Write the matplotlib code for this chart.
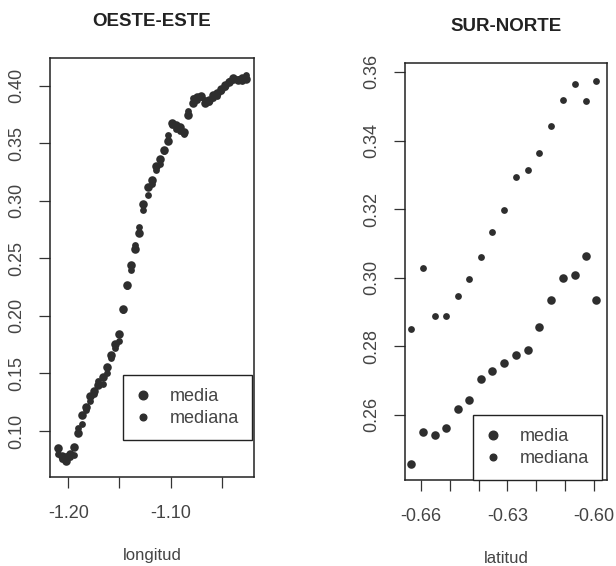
import matplotlib
matplotlib.use("Agg")
import matplotlib.pyplot as plt
from matplotlib.lines import Line2D

plt.rcParams['font.family'] = ['Liberation Sans', 'DejaVu Sans']

# ---- OESTE-ESTE data ----
longitud = [-1.2105, -1.2065, -1.2025, -1.1985, -1.1945, -1.1905, -1.1865, -1.1825,
            -1.1785, -1.1745, -1.1705, -1.1665, -1.1625, -1.1585, -1.1545, -1.1505,
            -1.1465, -1.1425, -1.1385, -1.1345, -1.1305, -1.1265, -1.1225, -1.1185,
            -1.1145, -1.1105, -1.1065, -1.1025, -1.0985, -1.0945, -1.0905, -1.0865,
            -1.0825, -1.0785, -1.0745, -1.0705, -1.0665, -1.0625, -1.0585, -1.0545,
            -1.0505, -1.0465, -1.0425, -1.0385, -1.0345, -1.0305, -1.0265]
lon_media = [0.085, 0.078, 0.074, 0.080, 0.086, 0.098, 0.114, 0.121,
             0.130, 0.135, 0.140, 0.147, 0.156, 0.166, 0.176, 0.184,
             0.206, 0.227, 0.244, 0.258, 0.272, 0.297, 0.312, 0.318,
             0.330, 0.336, 0.344, 0.352, 0.368, 0.366, 0.364, 0.360,
             0.375, 0.385, 0.390, 0.391, 0.385, 0.388, 0.392, 0.394,
             0.397, 0.401, 0.403, 0.407, 0.405, 0.407, 0.406]
lon_mediana = [0.080, 0.076, 0.078, 0.077, 0.079, 0.103, 0.106, 0.118,
               0.126, 0.132, 0.143, 0.141, 0.150, 0.163, 0.172, 0.178,
               0.205, 0.226, 0.240, 0.262, 0.277, 0.292, 0.305, 0.315,
               0.327, 0.332, 0.343, 0.357, 0.366, 0.362, 0.361, 0.358,
               0.378, 0.389, 0.388, 0.390, 0.388, 0.386, 0.389, 0.391,
               0.395, 0.399, 0.404, 0.405, 0.406, 0.404, 0.409]
lon_yticks = [0.10, 0.15, 0.20, 0.25, 0.30, 0.35, 0.40]
lon_xticks = [-1.20, -1.15, -1.10, -1.05]
lon_xticklabels = ['-1.20', '', '-1.10', '']

# ---- SUR-NORTE data ----
latitud = [-0.6634, -0.6591, -0.6551, -0.6513, -0.6473, -0.6434, -0.6392, -0.6352,
           -0.6311, -0.6270, -0.6229, -0.6189, -0.6149, -0.6108, -0.6066, -0.6027, -0.5994]
lat_media = [0.2456, 0.2550, 0.2541, 0.2563, 0.2617, 0.2642, 0.2705, 0.2728,
             0.2750, 0.2774, 0.2790, 0.2856, 0.2935, 0.3000, 0.3008, 0.3062, 0.2935]
lat_mediana = [0.2851, 0.3028, 0.2889, 0.2889, 0.2947, 0.2996, 0.3059, 0.3133,
               0.3197, 0.3295, 0.3313, 0.3364, 0.3441, 0.3518, 0.3564, 0.3515, 0.3574]
lat_yticks = [0.26, 0.28, 0.30, 0.32, 0.34, 0.36]
lat_xticks = [-0.66, -0.65, -0.64, -0.63, -0.62, -0.61, -0.60]
lat_xticklabels = ['-0.66', '', '', '-0.63', '', '', '-0.60']

PT = '#2e2e2e'
TXT = '#444444'

fig = plt.figure(figsize=(6.16, 5.66), dpi=100)
ax1 = fig.add_axes([50/616, 1-477/566, 204/616, 419/566])
ax2 = fig.add_axes([405/616, 1-480/566, 202/616, 417/566])


def style(ax, title, xlabel, yticks, xticks, xtl):
    ax.set_title(title, fontsize=13.5, fontweight='bold', color='#222222', pad=23)
    ax.set_xlabel(xlabel, fontsize=12, color=TXT, labelpad=19)
    ax.set_yticks(yticks)
    ax.set_yticklabels(['%.2f' % v for v in yticks], rotation=90, va='center',
                       fontsize=13, color=TXT)
    ax.set_xticks(xticks)
    ax.set_xticklabels(xtl, fontsize=13, color=TXT)
    ax.tick_params(axis='both', direction='out', length=8, width=0.9,
                   colors='#333333', labelcolor=TXT)
    ax.tick_params(axis='x', pad=12)
    ax.tick_params(axis='y', pad=10)
    for s in ax.spines.values():
        s.set_linewidth(1.1)
        s.set_color('#222222')


def legend(ax, anchor):
    h = [Line2D([], [], ls='none', marker='o', ms=6.2, color=PT, label='media'),
         Line2D([], [], ls='none', marker='o', ms=4.8, color=PT, label='mediana')]
    lg = ax.legend(handles=h, loc='lower right', bbox_to_anchor=anchor,
                   fontsize=13, fancybox=False, framealpha=1, edgecolor='#222222',
                   borderpad=0.7, handletextpad=1.1, labelspacing=0.3,
                   handlelength=0.8, borderaxespad=0)
    lg.get_frame().set_linewidth(1.0)
    for t in lg.get_texts():
        t.set_color(TXT)


ax1.scatter(longitud, lon_media, s=38, color=PT, linewidths=0, zorder=3)
ax1.scatter(longitud, lon_mediana, s=24, color=PT, linewidths=0, zorder=3)
ax1.set_xlim(-1.2179, -1.0184)
ax1.set_ylim(0.0600, 0.4241)
style(ax1, 'OESTE-ESTE', 'longitud', lon_yticks, lon_xticks, lon_xticklabels)
legend(ax1, (0.99, 0.088))

ax2.scatter(latitud, lat_media, s=38, color=PT, linewidths=0, zorder=3)
ax2.scatter(latitud, lat_mediana, s=24, color=PT, linewidths=0, zorder=3)
ax2.set_xlim(-0.6655, -0.5955)
ax2.set_ylim(0.2410, 0.3626)
style(ax2, 'SUR-NORTE', 'latitud', lat_yticks, lat_xticks, lat_xticklabels)
legend(ax2, (0.975, 0.0))

fig.savefig('out.png', dpi=100)
